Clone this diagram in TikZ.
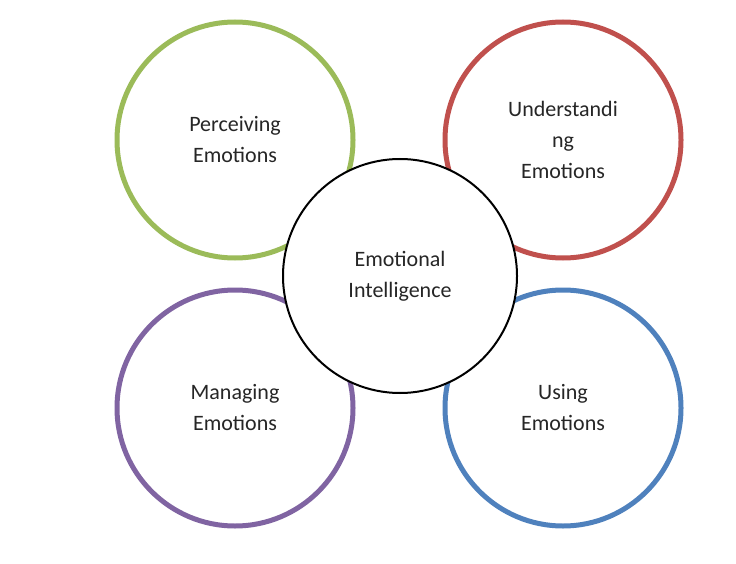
\documentclass[tikz,border=0pt]{standalone}
\usepackage{fontspec}
\setmainfont{Carlito}
\definecolor{cg}{RGB}{155,187,89}
\definecolor{cr}{RGB}{192,80,77}
\definecolor{cp}{RGB}{128,100,162}
\definecolor{cb}{RGB}{79,129,189}
\begin{document}
\begin{tikzpicture}[x=1pt,y=-1pt,
  ring/.style={circle,line width=5pt,fill=white,minimum size=236pt,inner sep=0pt,align=center,font=\fontsize{22}{31}\selectfont,text=black!85},
  hub/.style={circle,draw=black,line width=2pt,fill=white,minimum size=234pt,inner sep=0pt,align=center,font=\fontsize{22}{31}\selectfont,text=black!85}]
\useasboundingbox (0,0) rectangle (736,564);
\node[ring,draw=cg] (p) at (235,140) {Perceiving\\Emotions};
\node[ring,draw=cr] (u) at (563,140) {Understandi\\ng\\Emotions};
\node[ring,draw=cp] (m) at (235,408) {Managing\\Emotions};
\node[ring,draw=cb] (s) at (563,408) {Using\\Emotions};
\node[hub] (e) at (400,276) {Emotional\\Intelligence};
\end{tikzpicture}
\end{document}
